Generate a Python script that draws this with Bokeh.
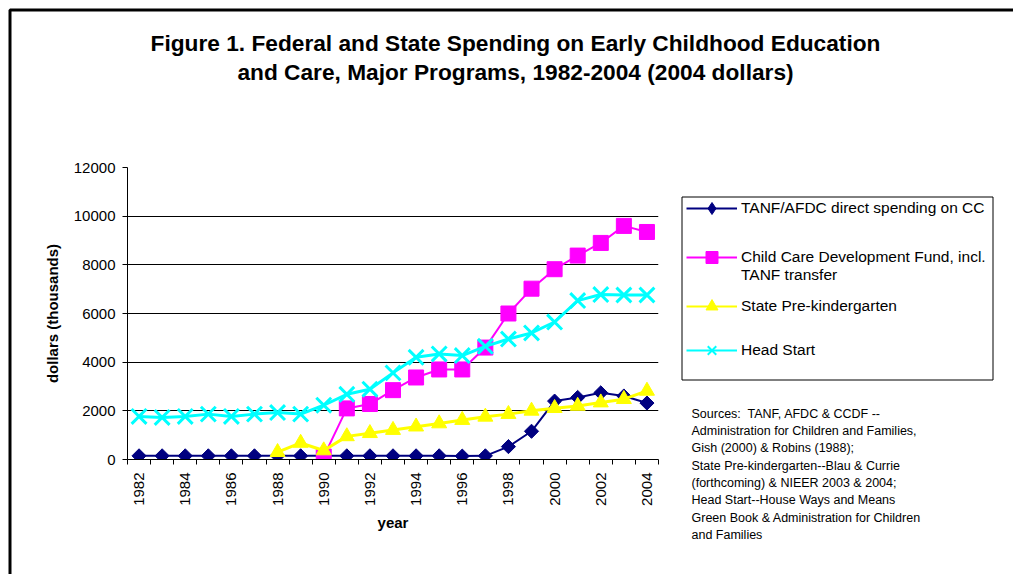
import math
from bokeh.plotting import figure
from bokeh.models import Range1d, FixedTicker, Legend, LegendItem, Label
from bokeh.embed import file_html
from bokeh.resources import INLINE

# ---------------- data ----------------
years = [1982, 1983, 1984, 1985, 1986, 1987, 1988, 1989, 1990, 1991, 1992, 1993,
         1994, 1995, 1996, 1997, 1998, 1999, 2000, 2001, 2002, 2003, 2004]
tanf = [150, 150, 150, 150, 150, 150, 150, 150, 150, 150, 150, 150,
        150, 150, 140, 150, 530, 1160, 2400, 2550, 2740, 2610, 2320]

ccdf_years = [1990, 1991, 1992, 1993, 1994, 1995, 1996, 1997, 1998, 1999,
              2000, 2001, 2002, 2003, 2004]
ccdf = [120, 2100, 2280, 2850, 3370, 3700, 3700, 4600, 6000, 7020,
        7820, 8380, 8900, 9600, 9350]

prek_years = [1988, 1989, 1990, 1991, 1992, 1993, 1994, 1995, 1996, 1997,
              1998, 1999, 2000, 2001, 2002, 2003, 2004]
prek = [300, 680, 370, 950, 1080, 1210, 1350, 1480, 1620, 1755,
        1865, 2000, 2110, 2200, 2340, 2480, 2820]

headstart = [1770, 1730, 1770, 1865, 1770, 1865, 1930, 1865, 2230, 2680, 2890,
             3560, 4200, 4340, 4270, 4650, 4950, 5200, 5650, 6530, 6780, 6760,
             6760]

series_names = ["TANF/AFDC direct spending on CC",
                " \nChild Care Development Fund, incl.\nTANF transfer",
                "State Pre-kindergarten",
                "Head Start"]
series_colors = ["#000080", "#FF00FF", "#FFFF00", "#00FFFF"]

y_ticks = [0, 2000, 4000, 6000, 8000, 10000, 12000]
x_tick_labels = [1982, 1984, 1986, 1988, 1990, 1992, 1994, 1996, 1998, 2000,
                 2002, 2004]

title_lines = ["Figure 1. Federal and State Spending on Early Childhood Education",
               "and Care, Major Programs, 1982-2004 (2004 dollars)"]
source_lines = ["Sources:\u00a0 TANF, AFDC & CCDF --",
                "Administration for Children and Families,",
                "Gish (2000) & Robins (1988);",
                "State Pre-kindergarten--Blau & Currie",
                "(forthcoming) & NIEER 2003 & 2004;",
                "Head Start--House Ways and Means",
                "Green Book & Administration for Children",
                "and Families"]

# ---------------- layout ----------------
W, H = 1013, 574
FL, FR, FT, FB = 127, 658, 167, 459
FONT = "Liberation Sans"

# ---- background page: frame, title, legend, sources (pixel coordinates) ----
bg = figure(width=W, height=H, output_backend="svg", toolbar_location=None,
            x_range=Range1d(0, W), y_range=Range1d(H, 0),
            x_axis_location=None, y_axis_location=None,
            min_border=0, background_fill_color="white",
            border_fill_color="white")
bg.grid.visible = False
bg.outline_line_color = None

# outer frame (top and left edges, extending past the window)
bg.line([9.5, 9.5, W + 50], [H + 50, 9.5, 9.5], line_color="black",
        line_width=3)

# legend box
bg.quad(left=[681.5], right=[992.5], top=[196.5], bottom=[379.5],
        fill_color="white", line_color="black", line_width=1)

for i, t in enumerate(title_lines):
    bg.add_layout(Label(x=515, y=42 + 29 * i, text=t,
                        text_font=FONT, text_font_size="22.7px",
                        text_font_style="bold", text_align="center",
                        text_baseline="middle", text_color="black"))

for i, t in enumerate(source_lines):
    bg.add_layout(Label(x=691, y=413.3 + 17.3 * i, text=t,
                        text_font=FONT, text_font_size="12.5px",
                        text_align="left", text_baseline="middle",
                        text_color="black"))

# legend samples (off-page points; only their legend glyphs show)
off_x, off_y = [-100], [-100]
markers = ["diamond", "square", "triangle", "x"]
lg = []
for k in range(4):
    r = bg.line(off_x, off_y, line_color=series_colors[k], line_width=2)
    m = bg.scatter(off_x, off_y, marker=markers[k], size=12,
                   fill_color=series_colors[k], line_color=series_colors[k],
                   line_width=2 if markers[k] == "x" else 1)
    lg.append([r, m])

legend = Legend(items=[LegendItem(label=series_names[k], renderers=lg[k])
                       for k in range(4)],
                location=(686, 202),
                label_text_font=FONT, label_text_font_size="15.5px",
                label_text_color="black",
                glyph_width=51, glyph_height=30, label_standoff=4,
                label_height=44, spacing=0, padding=0, margin=0,
                border_line_color=None, background_fill_alpha=0)
bg.add_layout(legend, "center")

# ---- chart, laid over the page ----
p = figure(width=W, height=H, output_backend="svg", toolbar_location=None,
           x_range=Range1d(1981.5, 2004.5), y_range=Range1d(0, 12000),
           min_border_left=FL, min_border_right=W - FR,
           min_border_top=FT, min_border_bottom=H - FB,
           background_fill_alpha=0, border_fill_alpha=0,
           styles={"position": "absolute", "top": "0px", "left": "0px"})
p.outline_line_color = None

xa = p.xaxis[0]
xa.ticker = FixedTicker(ticks=x_tick_labels,
                        minor_ticks=[y - 0.5 for y in years] + [2004.5])
xa.major_label_orientation = math.pi / 2
xa.major_tick_line_color = None
xa.major_tick_out = 5
xa.major_tick_in = 0
xa.minor_tick_out = 5
xa.minor_tick_in = 0
xa.minor_tick_line_color = "black"
xa.axis_line_color = "black"
xa.major_label_standoff = 8
xa.axis_label = "year"
xa.axis_label_standoff = 5

ya = p.yaxis[0]
ya.ticker = FixedTicker(ticks=y_ticks)
ya.major_tick_out = 5
ya.major_tick_in = 0
ya.minor_tick_line_color = None
ya.axis_line_color = "black"
ya.major_tick_line_color = "black"
ya.major_label_standoff = 7
ya.axis_label = "dollars (thousands)"
ya.axis_label_standoff = 10

for ax in (xa, ya):
    ax.major_label_text_font = FONT
    ax.major_label_text_font_size = "15px"
    ax.major_label_text_color = "black"
    ax.axis_label_text_font = FONT
    ax.axis_label_text_font_size = "15px"
    ax.axis_label_text_font_style = "bold"
    ax.axis_label_text_color = "black"

p.xgrid.visible = False
p.ygrid[0].ticker = FixedTicker(ticks=[2000, 4000, 6000, 8000, 10000])
p.ygrid[0].grid_line_color = "black"
p.ygrid[0].grid_line_width = 1

p.line(years, tanf, line_color=series_colors[0], line_width=2)
p.scatter(years, tanf, marker="square", angle=math.pi / 4, size=10,
          fill_color=series_colors[0], line_color=series_colors[0])
p.line(ccdf_years, ccdf, line_color=series_colors[1], line_width=2)
p.scatter(ccdf_years, ccdf, marker="square", size=15,
          fill_color=series_colors[1], line_color=series_colors[1])
p.line(prek_years, prek, line_color=series_colors[2], line_width=3)
p.scatter(prek_years, prek, marker="triangle", size=15,
          fill_color=series_colors[2], line_color=series_colors[2])
p.line(years, headstart, line_color=series_colors[3], line_width=3)
p.scatter(years, headstart, marker="x", size=21, line_color=series_colors[3],
          line_width=3)

open("out.html", "w").write(file_html([bg, p], INLINE))
